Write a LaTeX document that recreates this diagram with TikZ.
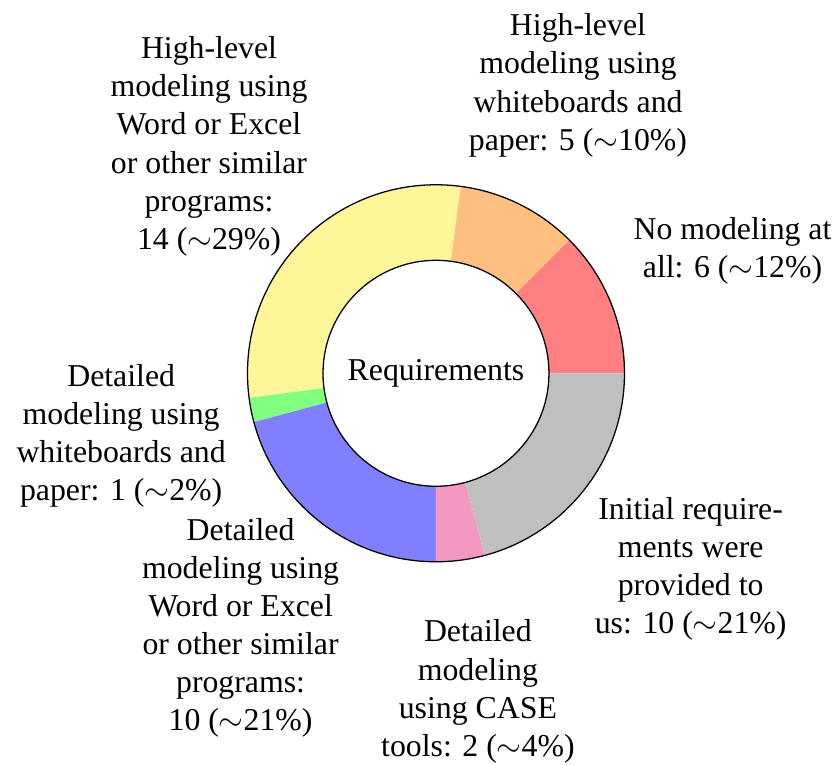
\documentclass[tikz,border=0pt]{standalone}
\usepackage{fontspec}
\setmainfont{Liberation Serif}
\definecolor{segyellow}{RGB}{255,245,153}
\definecolor{segpink}{RGB}{242,152,194}
\begin{document}
\begin{tikzpicture}[x=1pt,y=1pt,
  lbl/.style={align=center, font=\fontsize{10}{12}\selectfont},
  ring/.style={draw=black, line width=0.4pt}]
\useasboundingbox (-137.11,-123.18) rectangle (126.42,117.39);
\def\rin{35.53}
\def\rout{59.28}
\def\rlab{100.95}
% annular sectors: start angle / end angle / fill colour
\foreach \a/\b/\c in {0/45/red!50, 45/82.5/orange!50, 82.5/187.5/segyellow,
                      187.5/195/green!50, 195/270/blue!50, 270/285/segpink,
                      285/360/gray!50}
  \fill[fill=\c] (\a:\rin pt) -- (\a:\rout pt)
     arc[start angle=\a, end angle=\b, radius=\rout pt]
     -- (\b:\rin pt) arc[start angle=\b, end angle=\a, radius=\rin pt] -- cycle;
% ring outlines
\draw[ring] (0,0) circle[radius=\rout pt];
\draw[ring] (0,0) circle[radius=\rin pt];
% centre caption
\node[lbl] (mid) at (0,0) {Requirements};
% segment labels, placed at the middle angle of each segment
\node[lbl] (none) at (22.5:\rlab pt) {No modeling at\\all: 6 ($\sim$12\%)};
\node[lbl] (hlwb) at (63.75:\rlab pt) {High-level\\modeling using\\whiteboards and\\paper: 5 ($\sim$10\%)};
\node[lbl] (hlwd) at (135:\rlab pt) {High-level\\modeling using\\Word or Excel\\or other similar\\programs:\\14 ($\sim$29\%)};
\node[lbl] (dtwb) at (191.25:\rlab pt) {Detailed\\modeling using\\whiteboards and\\paper: 1 ($\sim$2\%)};
\node[lbl] (dtwd) at (232.5:\rlab pt) {Detailed\\modeling using\\Word or Excel\\or other similar\\programs:\\10 ($\sim$21\%)};
\node[lbl] (dtcs) at (277.5:\rlab pt) {Detailed\\modeling\\using CASE\\tools: 2 ($\sim$4\%)};
\node[lbl] (init) at (322.5:\rlab pt) {Initial require-\\ments were\\provided to\\us: 10 ($\sim$21\%)};
\end{tikzpicture}
\end{document}
